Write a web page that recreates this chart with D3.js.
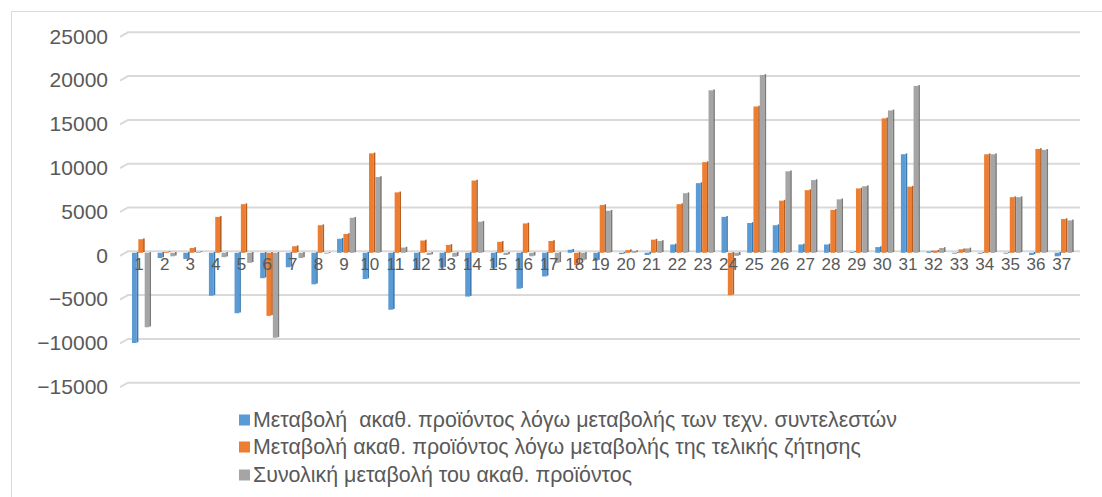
<!DOCTYPE html>
<html>
<head>
<meta charset="utf-8">
<script src="https://cdn.jsdelivr.net/npm/d3@7"></script>
<style>
  body { margin: 0; background: #fff; }
  svg { display: block; font-family: "Liberation Sans", Arial, sans-serif; }
</style>
</head>
<body>
<svg id="chart" width="1102" height="497"></svg>
<script>
// categories 1..37
const categories = d3.range(1, 38).map(String);

const seriesNames = [
  'Μεταβολή  ακαθ. προϊόντος λόγω μεταβολής των τεχν. συντελεστών',
  'Μεταβολή ακαθ. προϊόντος λόγω μεταβολής της τελικής ζήτησης',
  'Συνολική μεταβολή του ακαθ. προϊόντος'
];

const techChange = [-10300, -600, -700, -4900, -6900, -2900, -1650, -3600, 1600, -3000,
  -6500, -1950, -1700, -5000, -1750, -4100, -2700, 350, -900, -150,
  -250, 950, 7950, 4100, 3400, 3150, 950, 950, 100, 650,
  11250, 150, -100, -100, -100, -250, -400];

const demandChange = [1550, 100, 550, 4100, 5550, -7200, 750, 3150, 2150, 11350,
  6900, 1400, 900, 8250, 1250, 3350, 1350, -1400, 5450, 300,
  1500, 5550, 10350, -4850, 16700, 5950, 7150, 4900, 7350, 15350,
  7550, 250, 400, 11250, 6350, 11850, 3850];

const totalChange = [-8500, -400, 100, -500, -1150, -9700, -600, -100, 4000, 8650,
  600, -250, -450, 3550, -250, -400, -1150, -850, 4800, 200,
  1350, 6800, 18550, -350, 20300, 9300, 8300, 6100, 7600, 16250,
  19050, 550, 500, 11250, 6350, 11750, 3700];

const yTicks = [-15000, -10000, -5000, 0, 5000, 10000, 15000, 20000, 25000];

const colors = ['#5B9BD5', '#ED7D31', '#A5A5A5'];
const sideColors = ['#3F78AD', '#B85E21', '#7A7A7A'];

const svg = d3.select('#chart');

// outer chart border
svg.append('rect')
  .attr('x', 11.5).attr('y', 11.5)
  .attr('width', 1200).attr('height', 600)
  .attr('fill', '#fff')
  .attr('stroke', '#D9D9D9').attr('stroke-width', 1);

const y = d3.scaleLinear().domain([-15000, 25000]).range([382.7, 32.3]);
const x = d3.scaleBand().domain(categories).range([128.7, 1077]).padding(0);
const groupW = 19;
const xs = d3.scaleBand().domain([0, 1, 2]).range([0, groupW]).padding(0);

// gridlines with a small perspective foot on the left
const grid = svg.append('g');
grid.selectAll('path')
  .data(yTicks)
  .join('path')
  .attr('d', d => `M120,${y(d) + 4.5}L128,${y(d)}H1080`)
  .attr('fill', 'none')
  .attr('stroke', '#D9D9D9')
  .attr('stroke-width', 2);

// y axis labels
const yAxis = svg.append('g')
  .attr('transform', 'translate(108,4)')
  .call(d3.axisLeft(y).tickValues(yTicks).tickSize(0).tickPadding(0).tickFormat(d3.format('d')));
yAxis.select('.domain').remove();
yAxis.selectAll('text')
  .attr('fill', '#595959')
  .style('font-size', '21px');

// bars
const series = [techChange, demandChange, totalChange];
const sideW = 1.6;
series.forEach((vals, si) => {
  const g = svg.append('g');
  const data = vals.map((v, i) => ({ cat: categories[i], v }));
  const bx = d => x(d.cat) + (x.bandwidth() - groupW) / 2 + xs(si);
  const by = d => Math.min(y(d.v), y(0)) + 1.5;
  const bh = d => Math.abs(y(d.v) - y(0));
  g.selectAll('rect.front')
    .data(data)
    .join('rect')
    .attr('class', 'front')
    .attr('x', bx)
    .attr('y', by)
    .attr('width', xs.bandwidth() - sideW)
    .attr('height', bh)
    .attr('fill', colors[si]);
  g.selectAll('rect.side')
    .data(data)
    .join('rect')
    .attr('class', 'side')
    .attr('x', d => bx(d) + xs.bandwidth() - sideW)
    .attr('y', d => by(d) - 0.8)
    .attr('width', sideW)
    .attr('height', bh)
    .attr('fill', sideColors[si]);
});

// category labels
const xAxis = svg.append('g')
  .attr('transform', `translate(-2.5,${y(0) + 19})`)
  .call(d3.axisBottom(x).tickSize(0).tickPadding(0));
xAxis.select('.domain').remove();
xAxis.selectAll('text')
  .attr('fill', '#595959')
  .attr('dy', 0)
  .style('font-size', '17px');

// legend
const legend = svg.append('g').attr('transform', 'translate(239,0)');
const legendY = [420, 447, 475];
seriesNames.forEach((name, i) => {
  legend.append('rect')
    .attr('x', 0).attr('y', legendY[i] - 5.5)
    .attr('width', 11).attr('height', 11)
    .attr('fill', colors[i]);
  legend.append('text')
    .attr('x', 14).attr('y', legendY[i])
    .attr('dy', '0.35em')
    .attr('fill', '#595959')
    .style('font-size', '21.4px')
    .style('white-space', 'pre')
    .text(name);
});
</script>
</body>
</html>
